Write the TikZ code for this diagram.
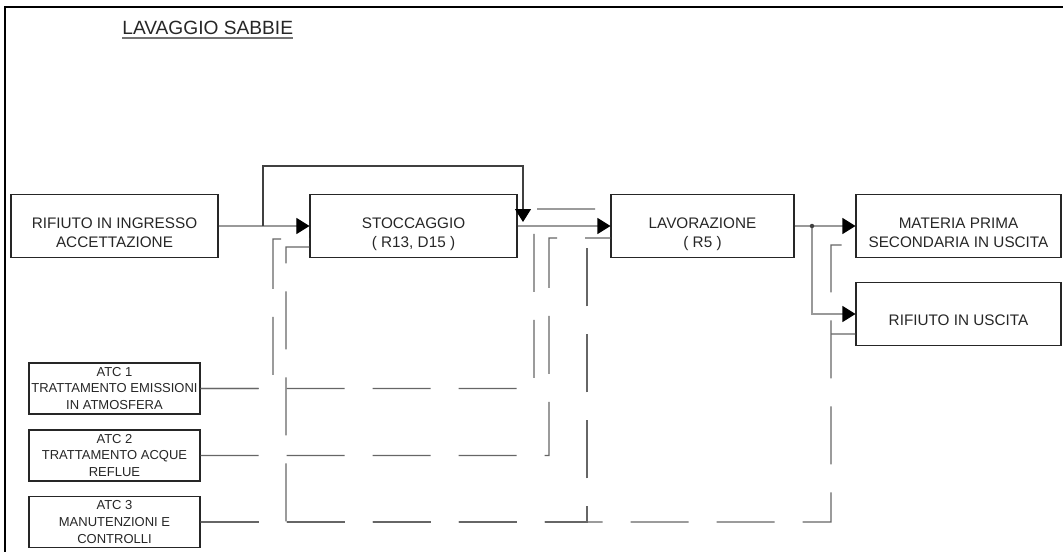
\documentclass[tikz,border=0pt]{standalone}
\usepackage{fontspec}
\setmainfont{Liberation Sans}
\usetikzlibrary{arrows.meta}

% box text, set a little below the middle of the box
\newcommand{\blktxt}[1]{\raisebox{-2.4mm}[0pt][0pt]{\begin{tabular}{@{}c@{}}#1\end{tabular}}}

\begin{document}
\begin{tikzpicture}[x=0.2mm, y=-0.2mm,
    blk/.style={draw=black!85, line width=0.6pt, minimum width=41.4mm,
                minimum height=12.6mm, inner sep=0pt, text=black!85,
                font=\fontsize{8.7}{10.7}\selectfont},
    atc/.style={draw=black!85, line width=0.6pt, minimum width=34.2mm,
                minimum height=10.2mm, inner sep=0pt, align=center,
                text=black!85, font=\fontsize{7.4}{9.6}\selectfont},
    arr/.style={-{Triangle[length=2.6mm, width=3.2mm, color=black]}, line width=0.6pt},
    flow/.style={arr, draw=black!40},
    dln/.style={draw=black!60, line width=0.6pt, dash pattern=on 11.6mm off 5.6mm},
  ]
    \useasboundingbox (0,0) rectangle (1063,552);

    % Frame and title
    \draw[line width=1.6pt] (5,552) -- (5,7) -- (1063,7);
    \node[anchor=base west, inner sep=0pt, text=black!85,
          font=\fontsize{10.9}{13}\selectfont] (titolo) at (122,34) {LAVAGGIO SABBIE};
    \draw[black!55, line width=1pt]
          ([yshift=-0.8mm]titolo.base west) -- ([yshift=-0.8mm]titolo.base east);

    % Nodes -- main line, left to right
    \node[blk] (ingresso) at (114.5,226) {\blktxt{RIFIUTO IN INGRESSO\\ACCETTAZIONE}};
    \node[blk] (stoccaggio) at (413.5,226) {\blktxt{STOCCAGGIO\\( R13, D15 )}};
    \node[blk, minimum width=36.6mm] (lavorazione) at (702.5,226)
      {\blktxt{LAVORAZIONE\\( R5 )}};
    \node[blk, minimum width=41mm] (materia) at (958.5,226)
      {\blktxt{MATERIA PRIMA\\SECONDARIA IN USCITA}};
    \node[blk, minimum width=41mm] (uscita) at (958.5,314)
      {\blktxt{RIFIUTO IN USCITA}};

    % Nodes -- ATC
    \node[atc] (atc1) at (114.5,388.5) {ATC 1\\TRATTAMENTO EMISSIONI\\IN ATMOSFERA};
    \node[atc] (atc2) at (114.5,455.5) {ATC 2\\TRATTAMENTO ACQUE\\REFLUE};
    \node[atc] (atc3) at (114.5,522) {ATC 3\\MANUTENZIONI E\\CONTROLLI};

    \coordinate (loopin)  at (263,226);
    \coordinate (loopout) at (523,222);
    \coordinate (split)   at (812,226);

    % Connections -- main flow
    \draw[flow] (ingresso.east) -- (stoccaggio.west);
    \draw[arr, draw=black!75] (loopin) -- ++(0,-60) -| (loopout);
    \draw[flow] (stoccaggio.east) -- (lavorazione.west);
    \draw[flow] (lavorazione.east) -- (split) -- (materia.west);
    \draw[flow] (split) |- (uscita.west);
    \fill[black!75] (split) circle (0.45mm);

    % Connections -- ATC 1
    \draw[dln] (atc1.east) -| (273,239) -- ([yshift=-2.6mm]stoccaggio.west);
    \draw[dln] (atc1.east) -| (534,209) -- ([yshift=3.4mm]lavorazione.west);
    % ATC 2
    \draw[dln] (atc2.east) -| (549,238) -- ([yshift=-2.4mm]lavorazione.west);
    % ATC 3
    \draw[dln] (atc3.east) -| (286,247) -- ([yshift=-4.2mm]stoccaggio.west);
    \draw[dln] (atc3.east) -| (587,247) -- ([yshift=-4.2mm]lavorazione.west);
    \draw[dln] (atc3.east) -| (831,245) -- ([yshift=-3.8mm]materia.west);
    \draw[dln] (831,334) -- ([yshift=-4mm]uscita.west);
\end{tikzpicture}
\end{document}
